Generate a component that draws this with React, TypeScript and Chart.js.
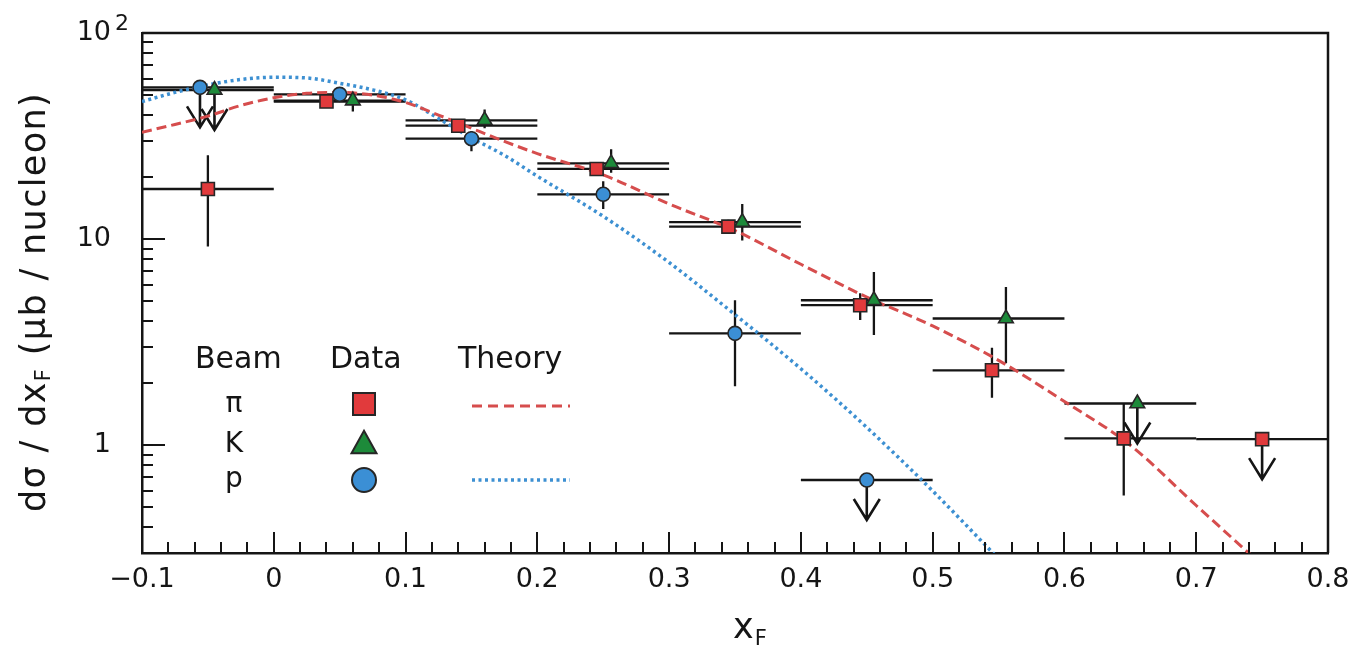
import { useEffect, useRef } from "react";
import { Chart, registerables } from "chart.js";

Chart.register(...registerables);

const FONT = '"DejaVu Sans", "Liberation Sans", sans-serif';

// ---- axes ----
const X_MIN = -0.1;
const X_MAX = 0.8;
const Y_MIN = 0.3;
const Y_MAX = 100;
const X_TICK_STEP = 0.1;
const X_MINOR_STEP = 0.02;
const Y_LABEL_VALUES = [1, 10, 100];
const Y_LABEL_BASES = ["1", "10", "10"];
const Y_LABEL_EXPONENTS = ["", "", "2"];

// ---- pi beam data (red squares) ----
const PI_X = [-0.05, 0.04, 0.14, 0.245, 0.345, 0.445, 0.545, 0.645, 0.75];
const PI_Y = [17.5, 46.5, 35.5, 21.9, 11.5, 4.78, 2.31, 1.08, 1.07];
const PI_XLO = [-0.1, 0, 0.1, 0.2, 0.3, 0.4, 0.5, 0.6, 0.7];
const PI_XHI = [0, 0.1, 0.2, 0.3, 0.4, 0.5, 0.6, 0.7, 0.8];
const PI_YLO = [9.2, 44, 33.5, 20.5, 10.6, 4.05, 1.7, 0.57, null];
const PI_YHI = [25.5, 49, 37.5, 23.5, 12.4, 5.46, 2.97, 1.6, null];
const PI_LIMIT = [false, false, false, false, false, false, false, false, true];

// ---- K beam data (green triangles) ----
const K_X = [-0.045, 0.06, 0.16, 0.256, 0.3555, 0.4554, 0.5556, 0.6553];
const K_Y = [52.9, 47.0, 37.7, 23.3, 12.1, 5.05, 4.12, 1.594];
const K_XLO = [-0.1, 0, 0.1, 0.2, 0.3, 0.4, 0.5, 0.6];
const K_XHI = [0, 0.1, 0.2, 0.3, 0.4, 0.5, 0.6, 0.7];
const K_YLO = [null, 41.6, 34.5, 21.0, 9.84, 3.43, 2.5, null];
const K_YHI = [null, 49.2, 42.6, 27.3, 14.8, 6.92, 5.86, null];
const K_LIMIT = [true, false, false, false, false, false, false, true];

// ---- p beam data (blue circles) ----
const P_X = [-0.056, 0.05, 0.15, 0.25, 0.35, 0.45];
const P_Y = [54.5, 50.4, 30.7, 16.5, 3.49, 0.678];
const P_XLO = [-0.1, 0, 0.1, 0.2, 0.3, 0.4];
const P_XHI = [0, 0.1, 0.2, 0.3, 0.4, 0.5];
const P_YLO = [null, 47.5, 26.7, 14.0, 1.93, null];
const P_YHI = [null, 53.5, 33.5, 19.1, 5.05, null];
const P_LIMIT = [true, false, false, false, false, true];

// ---- theory curves ----
const PI_THEORY_X = [-0.1, -0.075, -0.05, -0.025, 0, 0.025, 0.05, 0.075, 0.1, 0.125, 0.15, 0.175, 0.2, 0.25, 0.3, 0.35, 0.4, 0.45, 0.5, 0.55, 0.6, 0.65, 0.7, 0.745];
const PI_THEORY_Y = [33, 36, 39.5, 44.5, 48.5, 51, 51.5, 50, 46, 40, 34.5, 29.8, 26, 20.5, 14.8, 11, 7.55, 5.23, 3.79, 2.58, 1.63, 1.0, 0.51, 0.28];
const P_THEORY_X = [-0.1, -0.075, -0.05, -0.025, 0, 0.025, 0.05, 0.075, 0.1, 0.125, 0.15, 0.175, 0.2, 0.25, 0.3, 0.35, 0.4, 0.45, 0.5, 0.548];
const P_THEORY_Y = [46.5, 51.5, 56, 59.5, 61, 60.5, 57, 53, 47.4, 38.5, 31, 25.5, 20.2, 12.9, 7.7, 4.3, 2.35, 1.22, 0.6, 0.29];

// ---- legend ----
const LEGEND_HEADERS = ["Beam", "Data", "Theory"];
const LEGEND_BEAMS = ["π", "K", "p"];

// ---- colours ----
const RED_FILL = "#e13a3c";
const GREEN_FILL = "#1d8a3a";
const BLUE_FILL = "#3b8fd5";
const RED_LINE = "#d64d4d";
const BLUE_LINE = "#3d90d2";
const MARK_BORDER = "#262626";
const INK = "#151515";

type Pt = { x: number; y: number; xlo: number; xhi: number; ylo: number | null; yhi: number | null; lim: boolean };

function buildPoints(xs: number[], ys: number[], xlo: number[], xhi: number[], ylo: (number | null)[], yhi: (number | null)[], lim: boolean[]): Pt[] {
  return xs.map((x, i) => ({ x, y: ys[i], xlo: xlo[i], xhi: xhi[i], ylo: ylo[i], yhi: yhi[i], lim: lim[i] }));
}

function curve(xs: number[], ys: number[]) {
  return xs.map((x, i) => ({ x, y: ys[i] }));
}

const ARROW_LEN = 40;
const ARROW_HALF = 13;
const ARROW_HEAD = 21;

const errorBarPlugin = {
  id: "errorBars",
  beforeDatasetsDraw(chart: any) {
    const { ctx, chartArea: a, scales } = chart;
    const xs = scales.x;
    const ys = scales.y;
    ctx.save();
    ctx.beginPath();
    ctx.rect(a.left, a.top, a.right - a.left, a.bottom - a.top);
    ctx.clip();
    ctx.strokeStyle = INK;
    chart.data.datasets.forEach((ds: any) => {
      if (!ds.errorBars) return;
      (ds.data as Pt[]).forEach((p) => {
        const px = xs.getPixelForValue(p.x);
        const py = ys.getPixelForValue(p.y);
        ctx.lineWidth = 2.3;
        ctx.beginPath();
        ctx.moveTo(xs.getPixelForValue(p.xlo), py);
        ctx.lineTo(xs.getPixelForValue(p.xhi), py);
        if (p.ylo != null && p.yhi != null) {
          ctx.moveTo(px, ys.getPixelForValue(p.ylo));
          ctx.lineTo(px, ys.getPixelForValue(p.yhi));
        }
        ctx.stroke();
        if (p.lim) {
          const tip = py + ARROW_LEN;
          ctx.lineWidth = 2.6;
          ctx.beginPath();
          ctx.moveTo(px, py);
          ctx.lineTo(px, tip);
          ctx.moveTo(px - ARROW_HALF, tip - ARROW_HEAD);
          ctx.lineTo(px, tip);
          ctx.lineTo(px + ARROW_HALF, tip - ARROW_HEAD);
          ctx.stroke();
        }
      });
    });
    ctx.restore();
  },
};

function drawMarker(ctx: CanvasRenderingContext2D, kind: string, x: number, y: number, size: number, fill: string) {
  ctx.save();
  ctx.fillStyle = fill;
  ctx.strokeStyle = MARK_BORDER;
  ctx.lineWidth = 2;
  ctx.beginPath();
  if (kind === "rect") {
    ctx.rect(x - size / 2, y - size / 2, size, size);
  } else if (kind === "triangle") {
    const h = size * 0.9;
    ctx.moveTo(x, y - h / 2);
    ctx.lineTo(x + size / 2, y + h / 2);
    ctx.lineTo(x - size / 2, y + h / 2);
    ctx.closePath();
  } else {
    ctx.arc(x, y, size / 2, 0, Math.PI * 2);
  }
  ctx.fill();
  ctx.stroke();
  ctx.restore();
}

const decorPlugin = {
  id: "decor",
  afterDatasetsDraw(chart: any) {
    const { ctx, chartArea: a, scales } = chart;
    const xs = scales.x;
    const ys = scales.y;
    ctx.save();
    ctx.strokeStyle = INK;
    ctx.lineWidth = 2;
    ctx.beginPath();
    // inward x ticks
    const i0 = Math.round(X_MIN / X_MINOR_STEP);
    const i1 = Math.round(X_MAX / X_MINOR_STEP);
    const perMajor = Math.round(X_TICK_STEP / X_MINOR_STEP);
    for (let i = i0; i <= i1; i++) {
      const px = Math.round(xs.getPixelForValue(i * X_MINOR_STEP));
      const len = i % perMajor === 0 ? 21 : 11;
      ctx.moveTo(px, a.bottom);
      ctx.lineTo(px, a.bottom - len);
    }
    // inward y ticks (log decades)
    for (let e = -1; e <= 2; e++) {
      for (let m = 1; m <= 9; m++) {
        const v = m * Math.pow(10, e);
        if (v < Y_MIN * 0.999 || v > Y_MAX * 1.001) continue;
        const py = Math.round(ys.getPixelForValue(v));
        const len = m === 1 ? 23 : 11;
        ctx.moveTo(a.left, py);
        ctx.lineTo(a.left + len, py);
      }
    }
    ctx.stroke();
    // top / right frame
    ctx.lineWidth = 2.5;
    ctx.beginPath();
    ctx.moveTo(a.left, a.top);
    ctx.lineTo(a.right, a.top);
    ctx.lineTo(a.right, a.bottom);
    ctx.stroke();
    ctx.restore();
  },
  afterDraw(chart: any) {
    const { ctx, scales } = chart;
    const ys = scales.y;
    ctx.save();
    ctx.fillStyle = INK;

    // y tick labels
    Y_LABEL_VALUES.forEach((v, i) => {
      const py = ys.getPixelForValue(v);
      ctx.font = `27px ${FONT}`;
      ctx.textAlign = "right";
      ctx.textBaseline = "middle";
      ctx.fillText(Y_LABEL_BASES[i], 111, py);
      if (Y_LABEL_EXPONENTS[i]) {
        ctx.font = `22px ${FONT}`;
        ctx.textAlign = "left";
        ctx.textBaseline = "alphabetic";
        ctx.fillText(Y_LABEL_EXPONENTS[i], 115, py - 3);
      }
    });

    // y axis title (rotated, with subscript)
    const big = 35;
    const small = 21;
    const parts = [
      { t: "dσ / dx", s: big, dy: 0 },
      { t: "F", s: small, dy: 5 },
      { t: " (μb / nucleon)", s: big, dy: 0 },
    ];
    const target = 420;
    let natural = 0;
    let nChars = 0;
    parts.forEach((p) => {
      ctx.font = `${p.s}px ${FONT}`;
      natural += ctx.measureText(p.t).width;
      nChars += p.t.length;
    });
    const spacing = Math.max(0, (target - natural) / nChars);
    ctx.translate(45, 302);
    ctx.rotate(-Math.PI / 2);
    let u = -target / 2;
    ctx.textAlign = "left";
    ctx.textBaseline = "alphabetic";
    parts.forEach((p) => {
      ctx.font = `${p.s}px ${FONT}`;
      for (const ch of p.t) {
        ctx.fillText(ch, u, p.dy);
        u += ctx.measureText(ch).width + spacing;
      }
    });
    ctx.setTransform(1, 0, 0, 1, 0, 0);

    // x axis title
    ctx.font = `35px ${FONT}`;
    ctx.textAlign = "left";
    const xw = ctx.measureText("x").width;
    ctx.fillText("x", 733, 638);
    ctx.font = `21px ${FONT}`;
    ctx.fillText("F", 733 + xw + 1, 645);

    // legend
    ctx.font = `30px ${FONT}`;
    ctx.textAlign = "left";
    ctx.fillText(LEGEND_HEADERS[0], 195, 368);
    ctx.fillText(LEGEND_HEADERS[1], 330, 368);
    ctx.fillText(LEGEND_HEADERS[2], 458, 368);
    ctx.font = `28px ${FONT}`;
    ctx.textAlign = "center";
    ctx.fillText(LEGEND_BEAMS[0], 234, 412);
    ctx.fillText(LEGEND_BEAMS[1], 234, 452);
    ctx.fillText(LEGEND_BEAMS[2], 234, 487);

    drawMarker(ctx, "rect", 364, 404, 22, RED_FILL);
    drawMarker(ctx, "triangle", 364, 442, 25, GREEN_FILL);
    drawMarker(ctx, "circle", 364, 480, 24, BLUE_FILL);

    ctx.lineWidth = 3;
    ctx.strokeStyle = RED_LINE;
    ctx.setLineDash([10, 6]);
    ctx.beginPath();
    ctx.moveTo(472, 406);
    ctx.lineTo(570, 406);
    ctx.stroke();
    ctx.strokeStyle = BLUE_LINE;
    ctx.lineWidth = 3.5;
    ctx.setLineDash([3, 3.5]);
    ctx.beginPath();
    ctx.moveTo(472, 480);
    ctx.lineTo(570, 480);
    ctx.stroke();
    ctx.restore();
  },
};

function fmtX(v: number) {
  const r = Math.round(v * 10) / 10;
  if (Math.abs(r) < 1e-9) return "0";
  if (r < 0) return "\u2212" + Math.abs(r).toFixed(1);
  return r.toFixed(1);
}

export default function App() {
  const ref = useRef<HTMLCanvasElement | null>(null);
  useEffect(() => {
    if (!ref.current) return;
    const markerCommon = {
      type: "line" as const,
      showLine: false,
      borderColor: MARK_BORDER,
      borderWidth: 1.6,
      pointBorderWidth: 1.6,
      order: 1,
      errorBars: true,
    };
    const chart = new Chart(ref.current, {
      type: "line",
      data: {
        datasets: [
          {
            ...markerCommon,
            label: "π data",
            data: buildPoints(PI_X, PI_Y, PI_XLO, PI_XHI, PI_YLO, PI_YHI, PI_LIMIT) as any,
            pointStyle: "rect",
            pointRadius: 9.2,
            backgroundColor: RED_FILL,
            pointBackgroundColor: RED_FILL,
          } as any,
          {
            ...markerCommon,
            label: "K data",
            data: buildPoints(K_X, K_Y, K_XLO, K_XHI, K_YLO, K_YHI, K_LIMIT) as any,
            pointStyle: "triangle",
            pointRadius: 8.5,
            backgroundColor: GREEN_FILL,
            pointBackgroundColor: GREEN_FILL,
          } as any,
          {
            ...markerCommon,
            label: "p data",
            data: buildPoints(P_X, P_Y, P_XLO, P_XHI, P_YLO, P_YHI, P_LIMIT) as any,
            pointStyle: "circle",
            pointRadius: 7,
            backgroundColor: BLUE_FILL,
            pointBackgroundColor: BLUE_FILL,
          } as any,
          {
            type: "line",
            label: "π theory",
            data: curve(PI_THEORY_X, PI_THEORY_Y) as any,
            borderColor: RED_LINE,
            borderWidth: 3,
            borderDash: [10, 5],
            pointRadius: 0,
            fill: false,
            cubicInterpolationMode: "monotone",
            order: 2,
          } as any,
          {
            type: "line",
            label: "p theory",
            data: curve(P_THEORY_X, P_THEORY_Y) as any,
            borderColor: BLUE_LINE,
            borderWidth: 3.5,
            borderDash: [3, 3.5],
            pointRadius: 0,
            fill: false,
            cubicInterpolationMode: "monotone",
            order: 2,
          } as any,
        ],
      },
      options: {
        responsive: false,
        animation: false,
        events: [],
        layout: { padding: { left: 0, top: 33, right: 37, bottom: 0 } },
        plugins: { legend: { display: false }, tooltip: { enabled: false } },
        scales: {
          x: {
            type: "linear",
            min: X_MIN,
            max: X_MAX,
            grid: { display: false, drawTicks: false, tickLength: 0 },
            border: { display: true, color: INK, width: 2.5 },
            ticks: {
              stepSize: X_TICK_STEP,
              color: INK,
              font: { family: FONT, size: 27 },
              padding: 11,
              maxRotation: 0,
              autoSkip: false,
              callback: (v: any) => fmtX(Number(v)),
            },
            afterFit: (s: any) => {
              s.height = 97;
            },
          },
          y: {
            type: "logarithmic",
            min: Y_MIN,
            max: Y_MAX,
            grid: { display: false, drawTicks: false, tickLength: 0 },
            border: { display: true, color: INK, width: 2.5 },
            ticks: { display: false },
            afterFit: (s: any) => {
              s.width = 142;
            },
          },
        },
      } as any,
      plugins: [errorBarPlugin, decorPlugin],
    });
    return () => chart.destroy();
  }, []);

  return (
    <div style={{ position: "fixed", left: 0, top: 0, width: 1365, height: 650, background: "#fff" }}>
      <canvas ref={ref} width={1365} height={650} style={{ width: 1365, height: 650, display: "block" }} />
    </div>
  );
}
